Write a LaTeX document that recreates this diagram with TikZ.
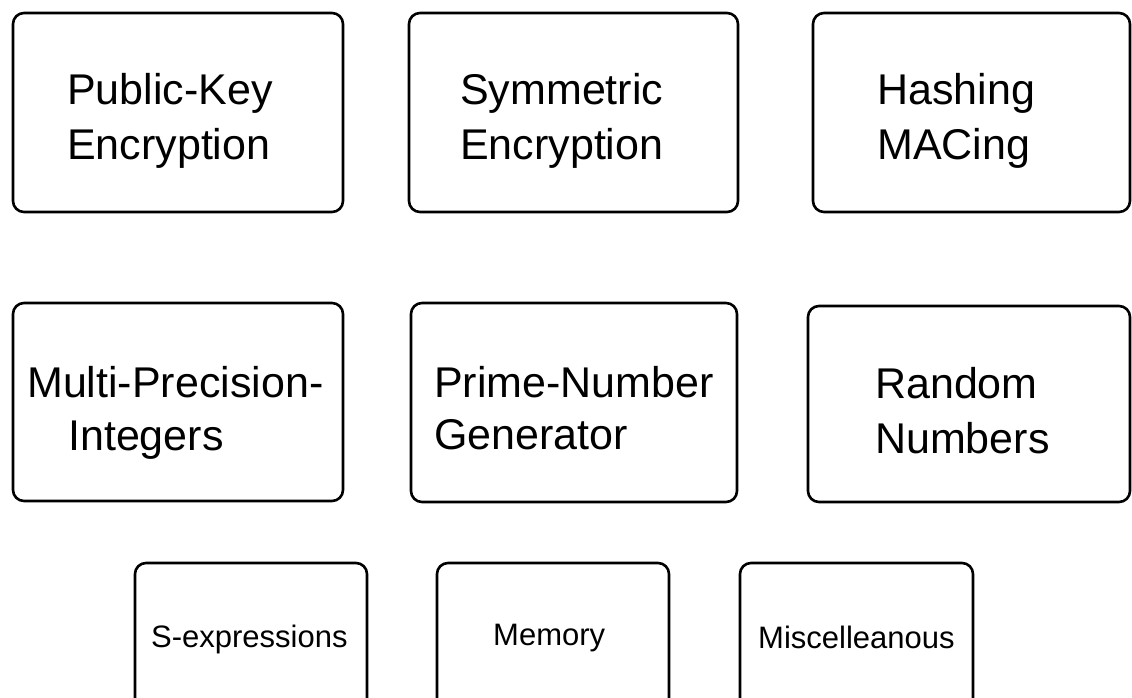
\documentclass[tikz,border=0pt]{standalone}
\usepackage{fontspec}
\setmainfont{Liberation Sans}
\tikzset{
  box/.style={draw, line width=2.6pt, rounded corners=11pt, rectangle, inner sep=0pt},
  bigtext/.style={font=\fontsize{43}{55}\selectfont, inner sep=0pt, anchor=base west},
  smalltext/.style={font=\fontsize{31}{36}\selectfont, inner sep=0pt, anchor=base west},
}
\begin{document}
\begin{tikzpicture}[x=1pt,y=-1pt]
\useasboundingbox (0,0) rectangle (1132,698);
\clip (0,0) rectangle (1132,698);
% row 1
\node[box, minimum width=330pt, minimum height=199pt] (b1) at (178,112.5) {};
\node[box, minimum width=329pt, minimum height=199pt] (b2) at (573.5,112.5) {};
\node[box, minimum width=317pt, minimum height=199pt] (b3) at (971.5,112.5) {};
% row 2
\node[box, minimum width=330pt, minimum height=198pt] (b4) at (178,402) {};
\node[box, minimum width=326pt, minimum height=199pt] (b5) at (574,402.5) {};
\node[box, minimum width=322pt, minimum height=196pt] (b6) at (969,404) {};
% row 3
\node[box, minimum width=232pt, minimum height=197pt] (b7) at (251,661.5) {};
\node[box, minimum width=232pt, minimum height=197pt] (b8) at (553,661.5) {};
\node[box, minimum width=233pt, minimum height=197pt] (b9) at (856.5,661.5) {};
% labels
\node[bigtext] (t1a) at (67,105) {Public-Key};
\node[bigtext] (t1b) at (67,160) {Encryption};
\node[bigtext] (t2a) at (460,105) {Symmetric};
\node[bigtext] (t2b) at (460,160) {Encryption};
\node[bigtext] (t3a) at (877,105) {Hashing};
\node[bigtext] (t3b) at (877,160) {MACing};
\node[bigtext] (t4a) at (27,397) {Multi-Precision-};
\node[bigtext] (t4b) at (68,450) {Integers};
\node[bigtext] (t5a) at (434,397) {Prime-Number};
\node[bigtext] (t5b) at (434,449) {Generator};
\node[bigtext] (t6a) at (875,398) {Random};
\node[bigtext] (t6b) at (875,453) {Numbers};
\node[smalltext] (t7) at (151,647) {S-expressions};
\node[smalltext] (t8) at (493,645) {Memory};
\node[smalltext] (t9) at (758,648) {Miscelleanous};
\end{tikzpicture}
\end{document}
